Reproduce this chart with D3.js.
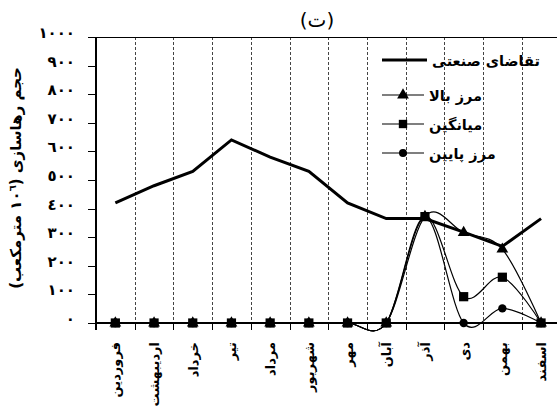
<!DOCTYPE html>
<html>
<head>
<meta charset="utf-8">
<script src="https://cdn.jsdelivr.net/npm/d3@7"></script>
<style>
  body { margin: 0; background: #fff; }
  text { font-family: "DejaVu Sans", sans-serif; fill: #000; }
</style>
</head>
<body>
<svg class="container" width="557" height="408"></svg>
<script>
let months = ["فروردین", "اردیبهشت", "خرداد", "تیر", "مرداد", "شهریور", "مهر", "آبان", "آذر", "دی", "بهمن", "اسفند"];
let demand = [420, 480, 530, 640, 580, 530, 420, 365, 365, 318, 268, 365];
let upper = [0, 0, 0, 0, 0, 0, 0, 0, 372, 316, 258, 0];
let average = [0, 0, 0, 0, 0, 0, 0, 0, 372, 92, 160, 0];
let lower = [0, 0, 0, 0, 0, 0, 0, 0, 372, 0, 51, 0];
let yTicks = [0, 100, 200, 300, 400, 500, 600, 700, 800, 900, 1000];
let legendNames = ["تقاضای صنعتی", "مرز بالا", "میانگین", "مرز پایین"];

let plotLeft = 96, plotTop = 37, plotBottom = 323, bandW = 38.7;
let svg = d3.select(".container");
let x = d3.scaleBand().domain(months).range([plotLeft, plotLeft + bandW * months.length]);
let y = d3.scaleLinear().domain([0, 1000]).range([plotBottom, plotTop]);

function arabicDigits(n) {
    return String(n).replace(/\d/g, d => "٠١٢٣٤٥٦٧٨٩"[d]);
}

// dashed gridlines at category borders
svg.append("g")
    .selectAll("line")
    .data(months.slice(1))
    .enter()
    .append("line")
    .attr("x1", d => Math.round(x(d)) + 0.5)
    .attr("x2", d => Math.round(x(d)) + 0.5)
    .attr("y1", plotTop)
    .attr("y2", plotBottom)
    .style("stroke", "#444")
    .style("stroke-width", 1)
    .style("stroke-dasharray", "3,2");

// frame: top line, left axis, bottom axis
svg.append("line").attr("x1", plotLeft).attr("x2", 557).attr("y1", plotTop + 0.5).attr("y2", plotTop + 0.5)
    .style("stroke", "#000").style("stroke-width", 1);
svg.append("line").attr("x1", plotLeft).attr("x2", plotLeft).attr("y1", plotTop).attr("y2", plotBottom + 7)
    .style("stroke", "#000").style("stroke-width", 2);
svg.append("line").attr("x1", plotLeft - 1).attr("x2", 557).attr("y1", plotBottom).attr("y2", plotBottom)
    .style("stroke", "#000").style("stroke-width", 2.2);

// x ticks
svg.append("g")
    .selectAll("line")
    .data(months.slice(1))
    .enter()
    .append("line")
    .attr("x1", d => Math.round(x(d)) + 0.5)
    .attr("x2", d => Math.round(x(d)) + 0.5)
    .attr("y1", plotBottom)
    .attr("y2", plotBottom + 7)
    .style("stroke", "#000")
    .style("stroke-width", 1);

// y ticks + labels
let yg = svg.append("g");
yg.selectAll("line")
    .data(yTicks)
    .enter()
    .append("line")
    .attr("x1", plotLeft - 8)
    .attr("x2", plotLeft)
    .attr("y1", d => Math.round(y(d)) + 0.5)
    .attr("y2", d => Math.round(y(d)) + 0.5)
    .style("stroke", "#000")
    .style("stroke-width", 1);
yg.selectAll("text")
    .data(yTicks)
    .enter()
    .append("text")
    .attr("x", 75)
    .attr("y", d => y(d) + 1)
    .attr("text-anchor", "end")
    .style("font-size", "15px")
    .style("font-weight", "bold")
    .text(d => arabicDigits(d));

// x labels, rotated
svg.append("g")
    .selectAll("text")
    .data(months)
    .enter()
    .append("text")
    .attr("transform", d => `translate(${x(d) + x.bandwidth() / 2 + 5},342) rotate(-90)`)
    .attr("text-anchor", "end")
    .style("font-size", "13px")
    .style("font-weight", "bold")
    .text(d => d);

// y axis title
let yt = svg.append("text")
    .attr("transform", "translate(21,178) rotate(-90)")
    .attr("text-anchor", "middle")
    .attr("direction", "rtl")
    .style("font-size", "15px")
    .style("font-weight", "bold");
yt.append("tspan").text("حجم رهاسازی (١٠");
yt.append("tspan").attr("baseline-shift", "super").style("font-size", "10px").text("٦");
yt.append("tspan").text(" مترمکعب)");

// title
svg.append("text").attr("x", 317).attr("y", 27).attr("text-anchor", "middle")
    .style("font-size", "20px").text("(ت)");

// series
let smooth = d3.line()
    .x((d, i) => x(months[i]) + x.bandwidth() / 2)
    .y(d => y(d))
    .curve(d3.curveCatmullRom.alpha(0));
let straight = d3.line()
    .x((d, i) => x(months[i]) + x.bandwidth() / 2)
    .y(d => y(d));

[lower, upper, average].forEach(s => {
    svg.append("path")
        .attr("d", smooth(s))
        .style("fill", "none")
        .style("stroke", "#000")
        .style("stroke-width", 1.2);
});

function drawMarkers(series, shape, size) {
    svg.append("g")
        .selectAll("path")
        .data(series)
        .enter()
        .append("path")
        .attr("transform", (d, i) => `translate(${x(months[i]) + x.bandwidth() / 2},${y(d)})`)
        .attr("d", d3.symbol().type(shape).size(size))
        .style("fill", "#000");
}
drawMarkers(lower, d3.symbolCircle, 55);
drawMarkers(upper, d3.symbolTriangle, 60);
drawMarkers(average, d3.symbolSquare, 85);

svg.append("path")
    .attr("d", straight(demand))
    .style("fill", "none")
    .style("stroke", "#000")
    .style("stroke-width", 3)
    .style("stroke-linejoin", "miter");

// legend
let legendY = [60, 95, 124, 153];
let legendShapes = [null, d3.symbolTriangle, d3.symbolSquare, d3.symbolCircle];
let legendSizes = [0, 60, 70, 50];
let lg = svg.append("g");
legendNames.forEach((name, i) => {
    let x1 = 382, x2 = i == 0 ? 427 : 424;
    lg.append("line")
        .attr("x1", x1).attr("x2", x2)
        .attr("y1", legendY[i]).attr("y2", legendY[i])
        .style("stroke", "#000")
        .style("stroke-width", i == 0 ? 3 : 1.2);
    if (legendShapes[i]) {
        lg.append("path")
            .attr("transform", `translate(403,${legendY[i]})`)
            .attr("d", d3.symbol().type(legendShapes[i]).size(legendSizes[i]))
            .style("fill", "#000");
    }
    lg.append("text")
        .attr("x", i == 0 ? 432 : 429)
        .attr("y", legendY[i] + 6)
        .attr("text-anchor", "start")
        .style("font-size", "14.5px")
        .style("font-weight", "bold")
        .text(name);
});
</script>
</body>
</html>
